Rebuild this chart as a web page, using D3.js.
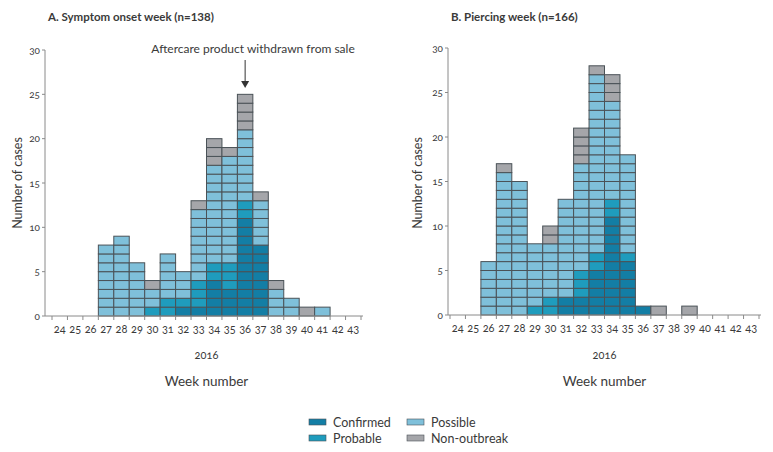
<!DOCTYPE html>
<html><head><meta charset="utf-8">
<script src="https://cdn.jsdelivr.net/npm/d3@7"></script>
<style>
body{margin:0;background:#fff;}
svg text{font-family:Lato,"Open Sans",sans-serif;fill:#3a3a3a;}
.num{font-variant-numeric:oldstyle-nums;}
</style></head>
<body><svg id="c" width="773" height="452"></svg>
<script>
const weeks = ["24","25","26","27","28","29","30","31","32","33","34","35","36","37","38","39","40","41","42","43"];
const categories = ["Confirmed","Probable","Possible","Non-outbreak"];
const colors = ["#137ea5","#1f9cbd","#7fc0da","#a5a6aa"];
const yTicks = [0,5,10,15,20,25,30];

// Panel A: symptom onset week (n=138)
const confirmedA = [0,0,0,0,0,0,0,0,1,1,4,3,11,8,0,0,0,0,0,0];
const probableA  = [0,0,0,0,0,0,1,2,1,3,2,3,2,0,0,0,0,0,0,0];
const possibleA  = [0,0,0,8,9,6,2,5,3,8,11,12,8,5,3,2,0,1,0,0];
const nonA       = [0,0,0,0,0,0,1,0,0,1,3,1,4,1,1,0,1,0,0,0];

// Panel B: piercing week (n=166)
const confirmedB = [0,0,0,0,0,0,0,2,2,5,11,6,1,0,0,0,0,0,0,0];
const probableB  = [0,0,0,0,0,1,2,0,3,2,2,1,0,0,0,0,0,0,0,0];
const possibleB  = [0,0,6,16,15,7,6,11,12,20,11,11,0,0,0,0,0,0,0,0];
const nonB       = [0,0,0,1,0,0,2,0,4,1,3,0,0,1,0,1,0,0,0,0];

const svg = d3.select("#c");

function panel(opt){
  const x = d3.scaleBand().domain(weeks).range(opt.xr).padding(0);
  const y = d3.scaleLinear().domain([0,30]).range(opt.yr);
  const g = svg.append("g");
  const series = [opt.conf, opt.prob, opt.poss, opt.non];
  const cells = [];
  weeks.forEach((w,i)=>{
    let k = 0;
    series.forEach((s,ci)=>{
      for(let j=0;j<s[i];j++){ cells.push({w, k, ci}); k++; }
    });
  });
  g.selectAll("rect.cell").data(cells).join("rect")
    .attr("x", d=>x(d.w)).attr("width", x.bandwidth())
    .attr("y", d=>y(d.k+1)).attr("height", d=>y(d.k)-y(d.k+1))
    .attr("fill", d=>colors[d.ci]).attr("stroke","#4a5257").attr("stroke-width",1);

  // x axis
  const x0 = opt.axisX, y0 = y(0);
  g.append("line").attr("x1",x0).attr("x2",opt.xr[1]+2).attr("y1",y0).attr("y2",y0)
    .attr("stroke","#8a8a8a").attr("stroke-width",1);
  const bounds = weeks.map(w=>x(w)).concat([x(weeks[weeks.length-1])+x.bandwidth()]);
  g.selectAll("line.xt").data(bounds).join("line")
    .attr("x1",d=>d).attr("x2",d=>d).attr("y1",y0).attr("y2",y0+4)
    .attr("stroke","#8a8a8a");
  g.selectAll("text.xl").data(weeks).join("text").attr("class","num")
    .attr("x",d=>x(d)+x.bandwidth()/2).attr("y",y0+17)
    .attr("text-anchor","middle").attr("font-size",11).text(d=>d);
  // y axis
  g.append("line").attr("x1",x0).attr("x2",x0).attr("y1",y(0)).attr("y2",y(30))
    .attr("stroke","#8a8a8a");
  g.selectAll("line.yt").data(yTicks).join("line")
    .attr("x1",x0-3).attr("x2",x0).attr("y1",d=>y(d)).attr("y2",d=>y(d))
    .attr("stroke","#8a8a8a");
  g.selectAll("text.yl").data(yTicks).join("text").attr("class","num")
    .attr("x",x0-5).attr("y",d=>y(d)+3.5).attr("text-anchor","end")
    .attr("font-size",10).text(d=>d);
  // titles
  g.append("text").attr("x",opt.titleX).attr("y",21).attr("font-size",11.5)
    .attr("font-weight","bold").text(opt.title);
  g.append("text").attr("transform",`translate(${opt.ytX},183) rotate(-90)`)
    .attr("text-anchor","middle").attr("font-size",12.5).text("Number of cases");
  const cx = (opt.xr[0]+opt.xr[1])/2;
  g.append("text").attr("class","num").attr("x",cx).attr("y",359).attr("text-anchor","middle")
    .attr("font-size",11).text("2016");
  g.append("text").attr("x",cx).attr("y",386).attr("text-anchor","middle")
    .attr("font-size",13.5).text("Week number");
  return {x,y};
}

const A = panel({xr:[52,361], yr:[316,50], axisX:45, conf:confirmedA, prob:probableA, poss:possibleA, non:nonA,
  title:"A. Symptom onset week (n=138)", titleX:48, ytX:22});
panel({xr:[450,759], yr:[315,48], axisX:448, conf:confirmedB, prob:probableB, poss:possibleB, non:nonB,
  title:"B. Piercing week (n=166)", titleX:451, ytX:422});

// annotation
const ax = A.x("36")+A.x.bandwidth()/2;
svg.append("text").attr("x",253).attr("y",53).attr("text-anchor","middle").attr("font-size",12)
  .text("Aftercare product withdrawn from sale");
svg.append("line").attr("x1",ax).attr("x2",ax).attr("y1",60).attr("y2",82).attr("stroke","#333").attr("stroke-width",1);
svg.append("path").attr("d",`M${ax-4},81 L${ax+4},81 L${ax},88 Z`).attr("fill","#333");

// legend
const leg = svg.append("g");
const legPos = [[309,422],[309,438],[407,422],[407,438]];
categories.forEach((c,i)=>{
  leg.append("rect").attr("x",legPos[i][0]).attr("y",legPos[i][1]-3).attr("width",17).attr("height",6)
    .attr("fill",colors[i]).attr("stroke","#4a5257").attr("stroke-width",0.6);
  leg.append("text").attr("x",legPos[i][0]+24).attr("y",legPos[i][1]+4.5).attr("font-size",12.5).text(c);
});
</script></body></html>
